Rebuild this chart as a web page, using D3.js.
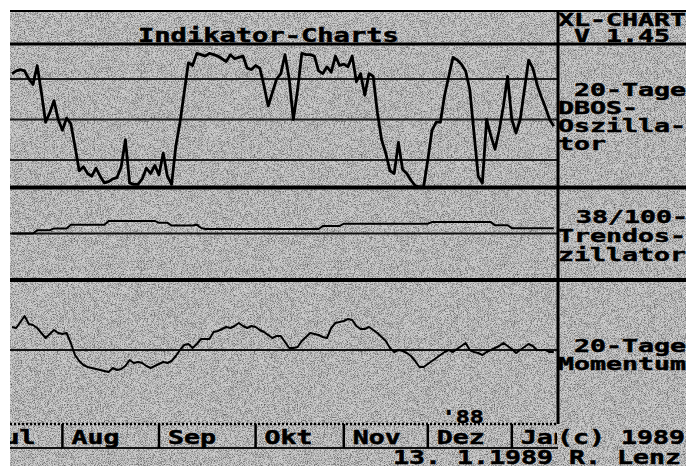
<!DOCTYPE html>
<html>
<head>
<meta charset="utf-8">
<script src="https://cdn.jsdelivr.net/npm/d3@7"></script>
<style>
  html, body { margin: 0; padding: 0; background: #ffffff; }
  svg { display: block; }
</style>
</head>
<body>
<svg id="chart" width="686" height="466"></svg>
<script>
// Trading-day index of the first session of each month (Jul 1988 .. Jan 1989)
const monthLabels = ["Jul", "Aug", "Sep", "Okt", "Nov", "Dez", "Jan"];
const monthStartDay = [-8, 12, 35, 58, 79, 99, 119];
const yearLabel = "'88";

// 20-Tage DBOS-Oszillator (0..100), one value per trading day
const dbos = [
  84, 86, 87, 86, 80, 76, 90, 70, 48, 55,
  64, 50, 42, 51, 47, 30, 12, 15, 10, 8,
  14, 8, 3, 4, 6, 7, 15, 35, 3, 2,
  2, 6, 14, 10, 16, 9, 25, 8, 2, 30,
  48, 70, 92, 90, 99, 98, 97, 99, 98, 97,
  95, 93, 98, 95, 96, 97, 88, 87, 90, 88,
  75, 60, 70, 80, 84, 98, 80, 50, 72, 99,
  98, 98, 97, 86, 84, 89, 85, 97, 90, 91,
  89, 97, 78, 84, 68, 84, 82, 55, 35, 25,
  12, 10, 33, 13, 10, 5, 1, 0, 0, 20,
  42, 48, 48, 68, 82, 96, 94, 91, 86, 72,
  40, 8, 3, 50, 38, 28, 42, 60, 82, 50,
  40, 50, 72, 94, 88, 76, 67, 59, 50, 45
];
const dbosGrid = [20, 50, 80];

// 38/100-Trendoszillator
const trend = [
  0, 0, 0, 0, 0, 0, 0.7, 0.7, 0.7, 0.7,
  1.1, 1.1, 1.1, 1.1, 1.9, 1.9, 1.9, 1.9, 1.9, 1.9,
  1.9, 1.9, 1.9, 2.7, 2.7, 2.7, 2.7, 2.7, 2.7, 2.7,
  2.7, 2.7, 2.7, 2.7, 2.7, 2.3, 2.3, 2.3, 1.7, 1.7,
  1.7, 1.7, 1.7, 1.7, 1.9, 1.2, 0.95, 0.95, 0.95, 0.95,
  0.95, 0.95, 0.95, 0.95, 0.95, 0.95, 0.95, 0.95, 0.95, 0.95,
  0.95, 0.95, 0.95, 0.95, 0.95, 0.95, 0.95, 0.95, 0.95, 0.95,
  0.95, 0.95, 0.95, 0.95, 1.6, 1.6, 1.6, 1.6, 1.6, 2.1,
  2.1, 2.1, 2.1, 2.1, 2.1, 2.1, 2.1, 2.1, 2.1, 2.1,
  2.1, 2.1, 2.1, 2.1, 2.1, 2.1, 2.1, 2.1, 2.1, 2.1,
  2.45, 2.45, 2.45, 2.45, 2.45, 2.45, 2.45, 2.45, 2.45, 2.45,
  2.45, 2.45, 2.45, 2.45, 2.45, 1.8, 1.8, 1.8, 1.8, 1.15,
  1.15, 1.15, 1.15, 1.15, 1.15, 1.15, 1.15, 1.15, 1.15, 1.15
];

// 20-Tage Momentum
const momentum = [
  5.75, 5.5, 7, 8.5, 6.5, 6.25, 5.5, 4.25, 3, 4,
  5, 4.25, 4, 4.25, 1.75, -1.25, -2.75, -3.75, -4.25, -4.5,
  -4.75, -5, -5.25, -5.5, -4.5, -5, -4.75, -4, -2.5, -3.25,
  -3, -3.25, -4, -4.5, -4, -3.5, -3, -3.25, -2.75, -1.5,
  0, 1.25, 1.5, 0.5, 1.5, 2.75, 2.75, 2.75, 4.5, 4.75,
  5.25, 5.75, 5.5, 6, 6.75, 6, 5.5, 6, 5.75, 5,
  4.5, 3.75, 3, 3.5, 3.5, 2, 0.5, 0.5, 0.75, 2.25,
  3.25, 4.25, 4, 3.75, 3.25, 3, 5.5, 6.75, 7, 7.25,
  7.75, 7.5, 6, 5.25, 5.25, 5.75, 5, 4.25, 3.25, 2.25,
  0.5, -0.5, 0, -0.25, -0.75, -1.5, -2.75, -4.25, -4.25, -3.5,
  -2.75, -2, -1.25, -0.5, 0, -0.5, 0.25, 1, 1.75, 0,
  -0.5, -0.75, -1.25, -0.5, 0, 0.5, 1, 1.75, 1, 0.25,
  -0.75, 0, 0.75, 1.5, 1, 0, 0, 0, -0.5, -0.5
];

const svg = d3.select("#chart");
const W = 686, H = 466;
const frameLeft = 10, frameTop = 10, divX = 558;
const FONT = "'DejaVu Sans Mono', 'Liberation Mono', monospace";
const CW = 16; // width of one character cell

// fine grain of the grey screen
const defs = svg.append("defs");
const grain = defs.append("filter").attr("id", "grain")
  .attr("x", 0).attr("y", 0).attr("width", "100%").attr("height", "100%");
grain.append("feTurbulence").attr("type", "fractalNoise")
  .attr("baseFrequency", 1.3).attr("numOctaves", 1).attr("seed", 11);
grain.append("feColorMatrix").attr("type", "matrix")
  .attr("values", "0 0 0 0 0  0 0 0 0 0  0 0 0 0 0  1.4 0 0 0 -0.58");

defs.append("clipPath").attr("id", "plotClip")
  .append("rect").attr("x", frameLeft).attr("y", frameTop)
  .attr("width", divX - frameLeft).attr("height", 420 - frameTop);
defs.append("clipPath").attr("id", "bandClip")
  .append("rect").attr("x", frameLeft).attr("y", 400).attr("width", 557 - frameLeft).attr("height", 60);

svg.append("rect").attr("x", frameLeft).attr("y", frameTop)
  .attr("width", W - frameLeft).attr("height", H - frameTop).attr("fill", "#cdcdcd");
svg.append("rect").attr("x", frameLeft).attr("y", frameTop)
  .attr("width", W - frameLeft).attr("height", H - frameTop)
  .attr("fill", "#000").attr("filter", "url(#grain)");

// scales
const x = d3.scaleLinear().domain([0, 130]).range([12, 558]);
const yDbos = d3.scaleLinear().domain([0, 100]).range([187, 52]);
const yTrend = d3.scaleLinear().domain([-10, 10]).range([280, 187]);
const yMom = d3.scaleLinear().domain([-17.5, 17.5]).range([420, 280]);

function hline(y, x1, x2, w, color, dash) {
  const l = svg.append("line").attr("x1", x1).attr("x2", x2).attr("y1", y).attr("y2", y)
    .attr("stroke", color || "#000").attr("stroke-width", w);
  if (dash) l.attr("stroke-dasharray", dash);
  return l;
}
function styleText(t, str, cw, size) {
  return t.attr("font-family", FONT).attr("font-weight", "bold")
    .attr("font-size", size)
    .attr("textLength", str.length * cw).attr("lengthAdjust", "spacingAndGlyphs")
    .attr("fill", "#000").attr("stroke", "#000").attr("stroke-width", 0.5)
    .text(str);
}
function label(str, x0, yb, opts) {
  opts = opts || {};
  return styleText(svg.append("text").attr("x", x0).attr("y", yb),
    str, opts.cw || CW, opts.size || 18);
}

// grid lines
dbosGrid.forEach(v => hline(yDbos(v), frameLeft, divX, 2, "#1a1a1a"));
hline(yTrend(0), frameLeft, divX, 2, "#111");
hline(yMom(0), frameLeft, divX, 2, "#111");

// frame
hline(11, frameLeft, W, 2);
hline(44, frameLeft, W, 3);
hline(187.5, frameLeft, W, 4);
hline(280, frameLeft, W, 4);
svg.append("line").attr("x1", divX).attr("x2", divX).attr("y1", 10).attr("y2", 424)
  .attr("stroke", "#000").attr("stroke-width", 3);

// series
const plot = svg.append("g").attr("clip-path", "url(#plotClip)");
const lineOf = yS => d3.line().x((d, i) => x(i)).y(d => yS(d));
plot.append("path").datum(dbos).attr("d", lineOf(yDbos))
  .attr("fill", "none").attr("stroke", "#000").attr("stroke-width", 2.8).attr("stroke-linejoin", "round");
plot.append("path").datum(trend).attr("d", lineOf(yTrend))
  .attr("fill", "none").attr("stroke", "#000").attr("stroke-width", 2);
plot.append("path").datum(momentum).attr("d", lineOf(yMom))
  .attr("fill", "none").attr("stroke", "#000").attr("stroke-width", 2).attr("stroke-linejoin", "round");

// month band
hline(424, frameLeft, divX, 2.5, "#000", "2,2");
hline(448, frameLeft, divX, 2, "#111");
const band = svg.append("g").attr("clip-path", "url(#bandClip)");
monthStartDay.forEach((d, i) => {
  band.append("line").attr("x1", x(d)).attr("x2", x(d)).attr("y1", 424).attr("y2", 448)
    .attr("stroke", "#000").attr("stroke-width", 2.5);
  styleText(band.append("text").attr("x", x(d) + 9).attr("y", 444), monthLabels[i], CW, 19);
});
label(yearLabel, x(monthStartDay[5]) + 14, 423, { cw: 14, size: 17 });

// titles and captions
label("Indikator-Charts", 138, 42, { cw: 16.3, size: 19 });
label("XL-CHART", 558, 26);
label("V 1.45", 574, 42);
label("20-Tage", 574, 96);
label("DBOS-", 558, 114);
label("Oszilla-", 558, 132);
label("tor", 558, 150);
label("38/100-", 576, 223);
label("Trendos-", 558, 242);
label("zillator", 558, 261);
label("20-Tage", 574, 352);
label("Momentum", 558, 370);
label("(c) 1989", 557, 444, { size: 19 });
label("13. 1.1989 R. Lenz", 393, 464, { size: 19 });
</script>
</body>
</html>
